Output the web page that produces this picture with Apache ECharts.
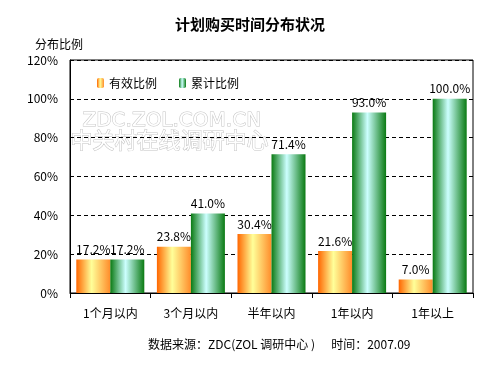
<!DOCTYPE html>
<html>
<head>
<meta charset="utf-8">
<script src="https://cdn.jsdelivr.net/npm/echarts@6/dist/echarts.min.js"></script>
<style>
  html, body { margin: 0; padding: 0; background: #fff; }
  #main { width: 500px; height: 375px; }
</style>
</head>
<body>
<div id="main"></div>
<script>
"use strict";

// 分类
let categories = ['1个月以内', '3个月以内', '半年以内', '1年以内', '1年以上'];
// 有效比例
let validRatio = [17.2, 23.8, 30.4, 21.6, 7.0];
// 累计比例
let cumRatio = [17.2, 41.0, 71.4, 93.0, 100.0];

let FONT = '"Noto Sans CJK SC", "DejaVu Sans", sans-serif';

// 横向渐变（柱子左右深，中间浅）
function barGradient(edge, mid, rightEdge) {
    return new echarts.graphic.LinearGradient(0, 0, 1, 0, [
        { offset: 0, color: edge },
        { offset: 0.45, color: mid },
        { offset: 1, color: rightEdge },
    ]);
}
let orangeFill = barGradient('#ff6600', '#ffff99', '#ff8c2a');
let greenFill = barGradient('#0a7a12', '#ccffff', '#0a7a12');

let myChart = echarts.init(document.getElementById('main'));

let option = {
    backgroundColor: '#ffffff',
    animation: false,
    title: {
        text: '计划购买时间分布状况',
        left: 'center',
        top: 12,
        textStyle: { fontFamily: FONT, fontSize: 15, fontWeight: 'bold', color: '#000' },
    },
    legend: {
        left: 92,
        top: 72,
        itemWidth: 7,
        itemHeight: 10,
        itemGap: 22,
        textStyle: { fontFamily: FONT, fontSize: 12, color: '#000' },
        data: [
            { name: '有效比例', itemStyle: { color: orangeFill } },
            { name: '累计比例', itemStyle: { color: greenFill } },
        ],
    },
    grid: {
        left: 70,
        right: 27,
        top: 60,
        bottom: 82,
        show: true,
        borderColor: '#000',
        borderWidth: 1,
    },
    graphic: [
        { // 水印
            type: 'text',
            left: 82,
            top: 110,
            silent: true,
            style: {
                text: 'ZDC.ZOL.COM.CN',
                font: '20px "DejaVu Sans", sans-serif',
                fill: '#ffffff',
                stroke: '#c4c4c4',
                lineWidth: 1,
            },
        },
        {
            type: 'text',
            left: 70,
            top: 128,
            silent: true,
            style: {
                text: '中关村在线调研中心',
                font: '22px ' + FONT,
                fill: '#ffffff',
                stroke: '#c4c4c4',
                lineWidth: 1,
            },
        },
        { // 数据来源
            type: 'text',
            left: 148,
            top: 338,
            style: {
                text: '数据来源：ZDC(ZOL 调研中心 )      时间：2007.09',
                font: '12px ' + FONT,
                fill: '#000',
            },
        },
    ],
    xAxis: {
        type: 'category',
        data: categories,
        axisLine: { lineStyle: { color: '#000' } },
        axisTick: { show: true, length: 5, lineStyle: { color: '#000' } },
        axisLabel: { fontFamily: FONT, fontSize: 12, color: '#000', margin: 14 },
    },
    yAxis: {
        type: 'value',
        name: '分布比例',
        nameLocation: 'end',
        nameGap: 10,
        nameTextStyle: { fontFamily: FONT, fontSize: 12, color: '#000', align: 'center', padding: [0, 22, 0, 0] },
        min: 0,
        max: 120,
        interval: 20,
        axisLine: { show: true, lineStyle: { color: '#000' } },
        axisTick: { show: false },
        axisLabel: { formatter: '{value}%', fontFamily: FONT, fontSize: 12, color: '#000', margin: 12 },
        splitLine: { lineStyle: { color: '#000', type: [4, 3], width: 1 } },
    },
    series: [
        {
            name: '有效比例',
            type: 'bar',
            data: validRatio,
            barWidth: 34,
            barGap: '0%',
            itemStyle: { color: orangeFill },
            label: {
                show: true,
                position: 'top',
                distance: 4,
                formatter: (p) => p.value.toFixed(1) + '%',
                fontFamily: FONT,
                fontSize: 12,
                color: '#000',
            },
        },
        {
            name: '累计比例',
            type: 'bar',
            data: cumRatio,
            barWidth: 34,
            itemStyle: { color: greenFill },
            label: {
                show: true,
                position: 'top',
                distance: 4,
                formatter: (p) => p.value.toFixed(1) + '%',
                fontFamily: FONT,
                fontSize: 12,
                color: '#000',
            },
        },
    ],
};

myChart.setOption(option);
</script>
</body>
</html>
